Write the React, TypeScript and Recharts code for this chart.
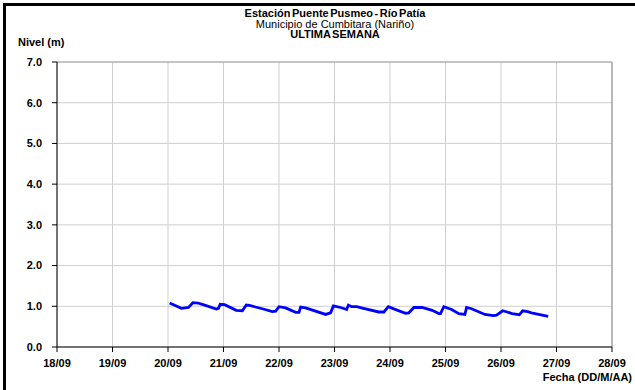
import React from 'react';
import { LineChart, Line, XAxis, YAxis, CartesianGrid, ReferenceLine } from 'recharts';

// Day of September (fractional) for each reading
const days = [
  20.03, 20.24, 20.37, 20.45, 20.54, 20.66, 20.87, 20.91, 20.94, 21.02,
  21.23, 21.34, 21.41, 21.47, 21.70, 21.88, 21.94, 22.00, 22.12, 22.30,
  22.36, 22.39, 22.48, 22.84, 22.93, 22.98, 23.11, 23.18, 23.22, 23.25,
  23.31, 23.40, 23.52, 23.80, 23.89, 23.97, 24.08, 24.28, 24.34, 24.43,
  24.58, 24.76, 24.88, 24.91, 24.97, 25.11, 25.24, 25.35, 25.38, 25.47,
  25.71, 25.86, 25.92, 26.03, 26.11, 26.20, 26.29, 26.33, 26.39, 26.48,
  26.57, 26.85,
];
// River level (m)
const levels = [
  1.08, 0.95, 0.97, 1.09, 1.08, 1.03, 0.93, 0.95, 1.05, 1.04,
  0.90, 0.89, 1.03, 1.02, 0.94, 0.87, 0.88, 0.99, 0.96, 0.85,
  0.85, 0.98, 0.96, 0.80, 0.84, 1.01, 0.97, 0.94, 0.92, 1.03,
  0.99, 0.99, 0.95, 0.86, 0.86, 0.99, 0.93, 0.83, 0.84, 0.97,
  0.97, 0.90, 0.82, 0.82, 0.99, 0.92, 0.82, 0.80, 0.97, 0.94,
  0.80, 0.77, 0.78, 0.89, 0.86, 0.82, 0.80, 0.79, 0.89, 0.87,
  0.83, 0.75,
];
const xTicks = [18, 19, 20, 21, 22, 23, 24, 25, 26, 27, 28];
const yTicks = [0, 1, 2, 3, 4, 5, 6, 7];
const titleLines = ['Estación Puente Pusmeo - Río Patía', 'Municipio de Cumbitara (Nariño)', 'ULTIMA SEMANA'];
const yLabel = 'Nivel (m)';
const xLabel = 'Fecha (DD/M/AA)';

const data = days.map((d, i) => ({ day: d, nivel: levels[i] }));

const font = 'Arial, "Liberation Sans", sans-serif';

export default function App() {
  const tickStyle = { fontFamily: font, fontSize: 11, fontWeight: 700, fill: '#000' };
  return (
    <div style={{ position: 'absolute', left: 0, top: 0, width: 635, height: 390, overflow: 'hidden', background: '#fff' }}>
      <div style={{ position: 'absolute', left: 3, top: 3, width: 800, height: 600, border: '3px solid #000' }} />
      <div style={{ position: 'absolute', left: 0, top: 0 }}>
        <LineChart width={635} height={390} data={data} margin={{ top: 62, right: 23, bottom: 23, left: 0 }}>
          <CartesianGrid stroke="#cfcfcf" strokeWidth={1} />
          <XAxis
            dataKey="day"
            type="number"
            domain={[18, 28]}
            ticks={xTicks}
            tickFormatter={(v: number) => `${v}/09`}
            tick={tickStyle}
            tickSize={5}
            tickMargin={7}
            height={20}
            stroke="#000"
            interval={0}
          />
          <YAxis
            type="number"
            domain={[0, 7]}
            ticks={yTicks}
            tickFormatter={(v: number) => v.toFixed(1)}
            tick={tickStyle}
            tickSize={5}
            tickMargin={10}
            width={57}
            stroke="#000"
            interval={0}
          />
          <ReferenceLine x={28} stroke="#8c8c8c" strokeWidth={1} />
          <ReferenceLine y={7} stroke="#a0a0a0" strokeWidth={1} />
          <Line type="linear" dataKey="nivel" stroke="#0000ff" strokeWidth={2.8} dot={false} isAnimationActive={false} />
        </LineChart>
      </div>
      <div style={{ position: 'absolute', left: 0, width: 670, top: 8, textAlign: 'center', fontFamily: font, fontSize: 11, lineHeight: '10.5px', color: '#000' }}>
        <div style={{ fontWeight: 700, wordSpacing: -1.5 }}>{titleLines[0]}</div>
        <div>{titleLines[1]}</div>
        <div style={{ fontWeight: 700, wordSpacing: -1.5 }}>{titleLines[2]}</div>
      </div>
      <div style={{ position: 'absolute', left: 18, top: 36, fontFamily: font, fontSize: 11, fontWeight: 700, color: '#000' }}>{yLabel}</div>
      <div style={{ position: 'absolute', right: 3, top: 371, fontFamily: font, fontSize: 11, fontWeight: 700, color: '#000' }}>{xLabel}</div>
    </div>
  );
}
